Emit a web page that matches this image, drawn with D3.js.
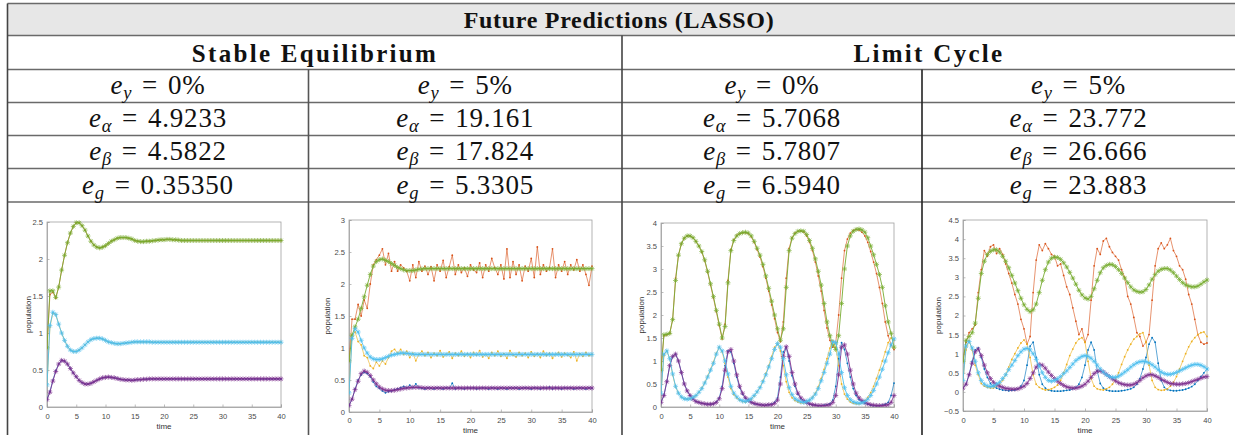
<!DOCTYPE html>
<html><head><meta charset="utf-8">
<script src="https://cdn.jsdelivr.net/npm/d3@7"></script>
<style>body{margin:0;background:#fff;} svg{display:block;}</style>
</head><body>
<svg id="c" width="1235" height="435"></svg>
<script>
// ---------------- DATA ----------------
const tableTitle = "Future Predictions (LASSO)";
const groupTitles = ["Stable Equilibrium", "Limit Cycle"];
const eyValues = ["0%", "5%", "0%", "5%"];
const eAlphaValues = ["4.9233", "19.161", "5.7068", "23.772"];
const eBetaValues = ["4.5822", "17.824", "5.7807", "26.666"];
const eGValues = ["0.35350", "5.3305", "6.5940", "23.883"];

const xTicks = [0,5,10,15,20,25,30,35,40];
const yTicksP1 = [0,0.5,1,1.5,2,2.5];
const yTicksP2 = [0,0.5,1,1.5,2,2.5,3];
const yTicksP3 = [0,0.5,1,1.5,2,2.5,3,3.5,4];
const yTicksP4 = [-0.5,0,0.5,1,1.5,2,2.5,3,3.5,4,4.5];

const time = [0,0.5,1,1.5,2,2.5,3,3.5,4,4.5,5,5.5,6,6.5,7,7.5,8,8.5,9,9.5,
10,10.5,11,11.5,12,12.5,13,13.5,14,14.5,15,15.5,16,16.5,17,17.5,18,18.5,19,19.5,
20,20.5,21,21.5,22,22.5,23,23.5,24,24.5,25,25.5,26,26.5,27,27.5,28,28.5,29,29.5,
30,30.5,31,31.5,32,32.5,33,33.5,34,34.5,35,35.5,36,36.5,37,37.5,38,38.5,39,39.5,40];

// Panel 1: stable equilibrium, e_y = 0%
const p1Blue = [0.10,0.21,0.36,0.49,0.58,0.63,0.62,0.58,0.52,0.46,
0.41,0.36,0.33,0.31,0.31,0.32,0.34,0.36,0.38,0.395,
0.40,0.405,0.40,0.395,0.385,0.375,0.37,0.365,0.365,0.36,
0.365,0.37,0.37,0.375,0.375,0.38,0.38,0.38,0.38,0.38,
0.38,0.38,0.38,0.38,0.38,0.38,0.38,0.38,0.38,0.38,
0.38,0.38,0.38,0.38,0.38,0.38,0.38,0.38,0.38,0.38,
0.38,0.38,0.38,0.38,0.38,0.38,0.38,0.38,0.38,0.38,
0.38,0.38,0.38,0.38,0.38,0.38,0.38,0.38,0.38,0.38,0.38];
const p1Orange = [0.80,1.52,1.55,1.47,1.62,1.85,2.05,2.22,2.35,2.44,
2.49,2.49,2.45,2.39,2.31,2.24,2.19,2.16,2.15,2.16,
2.18,2.21,2.24,2.26,2.28,2.29,2.29,2.29,2.28,2.27,
2.25,2.24,2.235,2.235,2.24,2.24,2.245,2.25,2.255,2.26,
2.26,2.265,2.265,2.26,2.26,2.255,2.25,2.25,2.25,2.25,
2.25,2.25,2.25,2.25,2.25,2.25,2.25,2.25,2.25,2.25,
2.25,2.25,2.25,2.25,2.25,2.25,2.25,2.25,2.25,2.25,
2.25,2.25,2.25,2.25,2.25,2.25,2.25,2.25,2.25,2.25,2.25];
const p1Yellow = [0.30,1.08,1.27,1.25,1.12,1.00,0.90,0.82,0.77,0.75,
0.75,0.77,0.80,0.84,0.88,0.91,0.925,0.93,0.93,0.92,
0.90,0.88,0.87,0.86,0.855,0.855,0.86,0.865,0.87,0.875,
0.88,0.88,0.88,0.88,0.88,0.88,0.875,0.875,0.875,0.875,
0.875,0.875,0.875,0.875,0.875,0.875,0.875,0.875,0.875,0.875,
0.875,0.875,0.875,0.875,0.875,0.875,0.875,0.875,0.875,0.875,
0.875,0.875,0.875,0.875,0.875,0.875,0.875,0.875,0.875,0.875,
0.875,0.875,0.875,0.875,0.875,0.875,0.875,0.875,0.875,0.875,0.875];
const p1Purple = [0.10,0.20,0.35,0.48,0.58,0.63,0.62,0.58,0.52,0.46,
0.41,0.36,0.33,0.31,0.31,0.32,0.34,0.36,0.38,0.395,
0.40,0.405,0.40,0.395,0.385,0.375,0.37,0.365,0.365,0.36,
0.365,0.37,0.37,0.375,0.375,0.38,0.38,0.38,0.38,0.38,
0.38,0.38,0.38,0.38,0.38,0.38,0.38,0.38,0.38,0.38,
0.38,0.38,0.38,0.38,0.38,0.38,0.38,0.38,0.38,0.38,
0.38,0.38,0.38,0.38,0.38,0.38,0.38,0.38,0.38,0.38,
0.38,0.38,0.38,0.38,0.38,0.38,0.38,0.38,0.38,0.38,0.38];
const p1Green = [0.80,1.57,1.57,1.48,1.62,1.85,2.05,2.22,2.35,2.44,
2.49,2.49,2.45,2.39,2.31,2.24,2.19,2.16,2.15,2.16,
2.18,2.21,2.24,2.26,2.28,2.29,2.29,2.29,2.28,2.27,
2.25,2.24,2.235,2.235,2.24,2.24,2.245,2.25,2.255,2.26,
2.26,2.265,2.265,2.26,2.26,2.255,2.25,2.25,2.25,2.25,
2.25,2.25,2.25,2.25,2.25,2.25,2.25,2.25,2.25,2.25,
2.25,2.25,2.25,2.25,2.25,2.25,2.25,2.25,2.25,2.25,
2.25,2.25,2.25,2.25,2.25,2.25,2.25,2.25,2.25,2.25,2.25];
const p1Cyan = [0.30,1.10,1.28,1.25,1.12,1.00,0.90,0.82,0.77,0.75,
0.75,0.77,0.80,0.84,0.88,0.91,0.925,0.93,0.93,0.92,
0.90,0.88,0.87,0.86,0.855,0.855,0.86,0.865,0.87,0.875,
0.88,0.88,0.88,0.88,0.88,0.88,0.875,0.875,0.875,0.875,
0.875,0.875,0.875,0.875,0.875,0.875,0.875,0.875,0.875,0.875,
0.875,0.875,0.875,0.875,0.875,0.875,0.875,0.875,0.875,0.875,
0.875,0.875,0.875,0.875,0.875,0.875,0.875,0.875,0.875,0.875,
0.875,0.875,0.875,0.875,0.875,0.875,0.875,0.875,0.875,0.875,0.875];

// Panel 2: stable equilibrium, e_y = 5%
const p2Blue = [0.10,0.20,0.36,0.50,0.58,0.62,0.60,0.55,0.47,0.40,
0.37,0.33,0.30,0.32,0.33,0.35,0.36,0.38,0.40,0.38,
0.42,0.38,0.44,0.38,0.37,0.36,0.38,0.37,0.36,0.38,
0.37,0.36,0.38,0.37,0.45,0.36,0.38,0.37,0.36,0.38,
0.37,0.38,0.36,0.37,0.38,0.37,0.36,0.38,0.37,0.36,
0.38,0.37,0.36,0.38,0.37,0.38,0.36,0.37,0.38,0.37,
0.36,0.38,0.37,0.36,0.38,0.37,0.39,0.36,0.38,0.37,
0.36,0.38,0.37,0.38,0.36,0.37,0.38,0.37,0.36,0.38,0.37];
const p2Orange = [0.80,1.45,1.45,1.68,1.50,1.75,1.62,2.00,2.30,2.38,
2.45,2.55,2.30,2.48,2.20,2.35,2.20,2.30,2.25,2.20,
2.05,2.30,2.10,2.35,2.20,2.28,2.15,2.27,2.05,2.30,
2.20,2.37,2.10,2.27,2.45,2.15,2.30,2.18,2.25,2.12,
2.30,2.22,2.18,2.33,2.10,2.30,2.20,2.40,2.25,2.15,
2.30,2.08,2.55,2.10,2.35,2.15,2.30,2.05,2.28,2.20,
2.40,2.10,2.58,2.15,2.30,2.20,2.25,2.55,2.10,2.30,
2.20,2.35,2.15,2.30,2.22,2.38,2.20,2.30,2.15,1.98,2.28];
const p2Yellow = [0.30,1.20,1.25,1.10,1.05,0.88,0.85,0.72,0.68,0.78,
0.72,0.80,0.75,0.85,0.95,0.98,0.92,0.98,0.90,0.95,
0.85,0.92,0.80,0.90,0.95,0.88,0.93,0.85,0.92,0.88,
0.96,0.86,0.90,0.94,0.84,0.92,0.88,0.95,0.87,0.91,
0.85,0.93,0.89,0.96,0.86,0.90,0.84,0.93,0.88,0.95,
0.87,0.91,0.84,0.96,0.89,0.86,0.93,0.88,0.92,0.85,
0.94,0.87,0.91,0.85,0.95,0.88,0.92,0.84,0.90,0.93,
0.86,0.92,0.89,0.85,0.94,0.80,0.91,0.87,0.93,0.88,0.90];
const p2Purple = [0.10,0.20,0.35,0.48,0.60,0.64,0.62,0.57,0.50,0.44,
0.39,0.36,0.34,0.335,0.335,0.34,0.35,0.36,0.37,0.375,
0.38,0.385,0.385,0.385,0.38,0.375,0.375,0.375,0.375,0.375,
0.375,0.375,0.375,0.375,0.375,0.375,0.375,0.375,0.375,0.375,
0.375,0.375,0.375,0.375,0.375,0.375,0.375,0.375,0.375,0.375,
0.375,0.375,0.375,0.375,0.375,0.375,0.375,0.375,0.375,0.375,
0.375,0.375,0.375,0.375,0.375,0.375,0.375,0.375,0.375,0.375,
0.375,0.375,0.375,0.375,0.375,0.375,0.375,0.375,0.375,0.375,0.375];
const p2Green = [0.80,1.20,1.33,1.45,1.62,1.80,1.98,2.15,2.28,2.35,
2.38,2.39,2.37,2.35,2.32,2.29,2.26,2.24,2.22,2.21,
2.21,2.21,2.22,2.23,2.235,2.24,2.24,2.24,2.24,2.24,
2.24,2.24,2.24,2.24,2.24,2.24,2.24,2.24,2.24,2.24,
2.24,2.24,2.24,2.24,2.24,2.24,2.24,2.24,2.24,2.24,
2.24,2.24,2.24,2.24,2.24,2.24,2.24,2.24,2.24,2.24,
2.24,2.24,2.24,2.24,2.24,2.24,2.24,2.24,2.24,2.24,
2.24,2.24,2.24,2.24,2.24,2.24,2.24,2.24,2.24,2.24,2.24];
const p2Cyan = [0.30,1.15,1.30,1.25,1.12,1.00,0.92,0.86,0.83,0.82,
0.82,0.83,0.85,0.87,0.89,0.90,0.91,0.92,0.92,0.915,
0.91,0.905,0.90,0.90,0.90,0.90,0.90,0.90,0.90,0.90,
0.90,0.90,0.90,0.90,0.90,0.90,0.90,0.90,0.90,0.90,
0.90,0.90,0.90,0.90,0.90,0.90,0.90,0.90,0.90,0.90,
0.90,0.90,0.90,0.90,0.90,0.90,0.90,0.90,0.90,0.90,
0.90,0.90,0.90,0.90,0.90,0.90,0.90,0.90,0.90,0.90,
0.90,0.90,0.90,0.90,0.90,0.90,0.90,0.90,0.90,0.90,0.90];

// Panel 3: limit cycle, e_y = 0%
const p3Blue = [0.10,0.25,0.55,0.90,1.10,1.15,1.00,0.75,0.50,0.35,
0.25,0.17,0.12,0.10,0.08,0.07,0.06,0.06,0.07,0.11,
0.20,0.45,0.90,1.22,1.20,0.95,0.65,0.42,0.28,0.19,
0.14,0.10,0.07,0.06,0.05,0.04,0.04,0.05,0.06,0.10,
0.20,0.65,1.20,1.30,1.00,0.68,0.45,0.28,0.18,0.12,
0.09,0.06,0.05,0.04,0.03,0.03,0.04,0.05,0.07,0.15,
0.45,1.05,1.40,1.25,0.95,0.65,0.40,0.25,0.16,0.11,
0.08,0.06,0.04,0.03,0.03,0.03,0.04,0.06,0.10,0.25,0.52];
const p3Orange = [0.80,1.55,1.57,1.60,1.90,2.80,3.30,3.55,3.67,3.72,
3.72,3.68,3.60,3.50,3.37,3.18,2.93,2.65,2.37,2.07,
1.77,1.48,1.80,2.75,3.42,3.63,3.73,3.77,3.79,3.79,
3.77,3.70,3.58,3.42,3.26,3.05,2.80,2.52,2.22,1.92,
1.62,1.42,1.85,2.80,3.45,3.68,3.78,3.82,3.83,3.81,
3.72,3.58,3.40,3.15,2.85,2.52,2.10,1.72,1.45,1.30,
1.40,2.00,2.80,3.40,3.65,3.78,3.84,3.86,3.85,3.80,
3.72,3.58,3.38,3.15,2.90,2.60,2.25,1.85,1.55,1.35,1.25];
const p3Yellow = [0.30,1.12,1.22,1.05,0.70,0.44,0.30,0.22,0.18,0.17,
0.18,0.21,0.25,0.32,0.41,0.53,0.67,0.82,0.98,1.17,
1.30,1.20,0.95,0.65,0.40,0.27,0.20,0.15,0.12,0.11,
0.13,0.17,0.24,0.33,0.43,0.57,0.73,0.90,1.10,1.30,
1.38,1.22,0.90,0.55,0.32,0.20,0.14,0.11,0.09,0.09,
0.11,0.15,0.21,0.30,0.44,0.62,0.82,1.05,1.28,1.45,
1.30,0.90,0.50,0.28,0.17,0.11,0.08,0.07,0.07,0.09,
0.14,0.21,0.31,0.45,0.62,0.80,1.00,1.20,1.40,1.50,1.45];
const p3Purple = [0.10,0.25,0.55,0.90,1.10,1.15,1.00,0.75,0.50,0.35,
0.25,0.17,0.12,0.10,0.08,0.07,0.06,0.06,0.07,0.10,
0.18,0.40,0.80,1.20,1.25,1.00,0.70,0.45,0.30,0.20,
0.15,0.10,0.08,0.06,0.05,0.04,0.04,0.05,0.05,0.08,
0.15,0.50,1.10,1.31,1.10,0.75,0.50,0.30,0.20,0.14,
0.10,0.07,0.05,0.04,0.03,0.03,0.03,0.04,0.05,0.10,
0.25,0.70,1.30,1.35,1.15,0.80,0.50,0.30,0.20,0.14,
0.10,0.07,0.05,0.04,0.03,0.03,0.03,0.04,0.05,0.10,0.25];
const p3Green = [0.80,1.57,1.58,1.60,1.90,2.75,3.30,3.55,3.67,3.72,
3.72,3.68,3.60,3.50,3.38,3.20,2.95,2.68,2.40,2.10,
1.80,1.50,1.75,2.70,3.40,3.62,3.72,3.77,3.79,3.80,
3.78,3.72,3.60,3.45,3.30,3.10,2.85,2.58,2.30,2.00,
1.70,1.45,1.70,2.60,3.40,3.67,3.77,3.82,3.83,3.82,
3.75,3.62,3.45,3.22,2.95,2.65,2.25,1.85,1.55,1.35,
1.25,1.55,2.25,3.00,3.50,3.72,3.82,3.86,3.87,3.85,
3.80,3.68,3.50,3.31,3.10,2.88,2.60,2.20,1.85,1.60,1.30];
const p3Cyan = [0.30,1.15,1.22,1.05,0.72,0.45,0.30,0.22,0.18,0.17,
0.18,0.21,0.25,0.32,0.40,0.52,0.65,0.80,0.95,1.15,
1.30,1.22,1.00,0.72,0.45,0.30,0.22,0.16,0.13,0.12,
0.14,0.18,0.25,0.33,0.42,0.55,0.70,0.87,1.05,1.25,
1.38,1.30,1.05,0.70,0.42,0.27,0.18,0.14,0.11,0.10,
0.12,0.15,0.20,0.28,0.40,0.57,0.75,0.95,1.15,1.42,
1.40,1.15,0.75,0.42,0.25,0.16,0.11,0.09,0.08,0.09,
0.12,0.17,0.25,0.36,0.50,0.65,0.82,1.00,1.18,1.35,1.48];

// Panel 4: limit cycle, e_y = 5%
const p4Blue = [0.10,0.20,0.45,0.80,1.10,1.15,0.90,0.60,0.38,0.22,
0.15,0.10,0.07,0.05,0.04,0.03,0.04,0.05,0.08,0.15,
0.30,0.70,1.20,1.30,0.90,0.45,0.20,0.10,0.05,0.03,
0.02,0.02,0.02,0.03,0.04,0.05,0.08,0.12,0.20,0.38,
0.70,1.10,1.30,1.10,0.55,0.22,0.10,0.05,0.03,0.02,
0.02,0.02,0.03,0.04,0.06,0.08,0.12,0.20,0.35,0.60,
0.90,1.25,1.42,1.30,0.75,0.30,0.12,0.06,0.04,0.03,
0.03,0.04,0.05,0.07,0.10,0.14,0.20,0.30,0.40,0.50,0.60];
const p4Orange = [0.80,1.30,1.55,1.65,1.75,2.60,3.20,3.70,3.55,3.80,
3.85,3.62,3.75,3.60,3.35,3.10,2.85,2.55,2.30,1.90,
1.65,1.25,1.45,2.60,3.45,3.85,3.70,3.88,3.75,3.60,
3.55,3.30,3.35,3.05,2.75,2.55,2.20,1.85,1.50,1.65,
1.30,1.50,2.40,3.30,3.75,3.60,3.95,4.02,3.80,3.65,
3.55,3.45,3.20,3.00,2.50,2.30,1.95,1.55,1.45,1.20,
1.30,1.50,2.40,3.30,3.75,3.90,3.75,3.85,4.02,3.70,
3.55,3.30,3.20,2.95,2.55,2.30,1.90,1.50,1.30,1.25,1.28];
const p4Yellow = [0.30,1.10,1.35,1.10,0.70,0.45,0.22,0.15,0.12,0.10,
0.10,0.15,0.20,0.30,0.45,0.65,0.85,1.00,1.15,1.28,
1.36,1.25,0.90,0.45,0.20,0.12,0.08,0.05,0.06,0.08,
0.12,0.18,0.30,0.50,0.72,0.95,1.12,1.28,1.38,1.42,
1.30,0.80,0.35,0.15,0.08,0.06,0.05,0.08,0.12,0.20,
0.32,0.50,0.72,0.92,1.10,1.25,1.38,1.45,1.52,1.55,
1.30,0.70,0.30,0.12,0.06,0.04,0.05,0.08,0.15,0.25,
0.40,0.60,0.80,1.00,1.18,1.32,1.42,1.50,1.55,1.57,1.45];
const p4Purple = [0.10,0.20,0.45,0.75,1.05,1.12,0.95,0.70,0.50,0.35,
0.25,0.19,0.15,0.12,0.09,0.08,0.07,0.07,0.08,0.11,
0.15,0.22,0.35,0.50,0.65,0.72,0.70,0.62,0.52,0.43,
0.35,0.28,0.22,0.17,0.13,0.11,0.10,0.10,0.12,0.15,
0.20,0.28,0.38,0.48,0.54,0.55,0.52,0.46,0.40,0.34,
0.29,0.24,0.21,0.19,0.18,0.18,0.20,0.24,0.30,0.37,
0.42,0.45,0.45,0.42,0.38,0.33,0.29,0.25,0.22,0.21,
0.20,0.20,0.21,0.22,0.24,0.27,0.30,0.33,0.36,0.39,0.40];
const p4Green = [0.80,1.35,1.45,1.55,1.80,2.45,3.10,3.42,3.60,3.68,
3.72,3.72,3.66,3.55,3.42,3.25,3.05,2.85,2.65,2.45,
2.28,2.16,2.10,2.15,2.30,2.60,2.92,3.20,3.40,3.50,
3.53,3.52,3.47,3.38,3.27,3.13,2.98,2.82,2.66,2.54,
2.46,2.43,2.50,2.70,2.92,3.12,3.25,3.31,3.34,3.33,
3.28,3.20,3.10,2.98,2.86,2.75,2.67,2.63,2.61,2.62,
2.68,2.80,2.95,3.07,3.16,3.21,3.23,3.23,3.19,3.12,
3.03,2.94,2.86,2.80,2.77,2.75,2.75,2.77,2.82,2.88,2.93];
const p4Cyan = [0.30,1.20,1.32,1.15,0.80,0.50,0.30,0.20,0.15,0.14,
0.15,0.20,0.25,0.35,0.45,0.58,0.70,0.82,0.95,1.05,
1.12,1.14,1.10,1.00,0.85,0.68,0.50,0.38,0.30,0.28,
0.30,0.34,0.40,0.48,0.55,0.64,0.73,0.82,0.88,0.93,
0.95,0.93,0.88,0.80,0.70,0.60,0.52,0.45,0.40,0.38,
0.38,0.41,0.46,0.52,0.58,0.65,0.71,0.76,0.79,0.80,
0.79,0.76,0.71,0.65,0.58,0.52,0.48,0.46,0.46,0.48,
0.51,0.55,0.59,0.63,0.67,0.70,0.72,0.72,0.70,0.66,0.60];

// ---------------- DRAWING ----------------
const svg = d3.select("#c");
const C = {blue:"#0072BD", orange:"#D95319", yellow:"#EDB120", purple:"#7E2F8E", green:"#77AC30", cyan:"#4DBEEE"};

// table geometry
const tLeft = 7.5, tRight = 1236;
const rowY = [3.5, 35.5, 69.5, 102.5, 135.5, 168.5, 202];
const colX = [7.5, 308.5, 622, 922, 1236];
const lineCol = "#6a6a6a";

svg.append("rect").attr("x", tLeft).attr("y", rowY[0]).attr("width", tRight - tLeft).attr("height", rowY[1] - rowY[0]).attr("fill", "#e7e7e7");

const grid = svg.append("g").attr("stroke", lineCol).attr("stroke-width", 1.6);
rowY.forEach(y => grid.append("line").attr("x1", tLeft).attr("x2", tRight).attr("y1", y).attr("y2", y));
grid.append("line").attr("x1", tLeft).attr("x2", tLeft).attr("y1", rowY[0]).attr("y2", 435).attr("stroke", "#444");
grid.append("line").attr("x1", colX[2]).attr("x2", colX[2]).attr("y1", rowY[1]).attr("y2", 435).attr("stroke", "#444");
grid.append("line").attr("x1", colX[1]).attr("x2", colX[1]).attr("y1", rowY[2]).attr("y2", 435).attr("stroke", "#555");
grid.append("line").attr("x1", colX[3]).attr("x2", colX[3]).attr("y1", rowY[2]).attr("y2", 435).attr("stroke", "#222");

const serif = "'Liberation Serif','DejaVu Serif',serif";
svg.append("text").attr("x", 619).attr("y", 27.5).attr("text-anchor", "middle")
  .attr("font-family", serif).attr("font-weight", "bold").attr("font-size", 24).attr("fill", "#111")
  .attr("letter-spacing", 0.7).text(tableTitle);
[[ 315, groupTitles[0] ], [ 929, groupTitles[1] ]].forEach(([x, s]) => {
  svg.append("text").attr("x", x).attr("y", 61.5).attr("text-anchor", "middle")
    .attr("font-family", serif).attr("font-weight", "bold").attr("font-size", 25).attr("fill", "#111")
    .attr("letter-spacing", 2.3).text(s);
});

const colCenters = [(colX[0]+colX[1])/2, (colX[1]+colX[2])/2, (colX[2]+colX[3])/2, (colX[3]+1235)/2];
function mathCell(x, y, sub, val) {
  const t = svg.append("text").attr("x", x).attr("y", y).attr("text-anchor", "middle")
    .attr("font-family", serif).attr("font-size", 27).attr("fill", "#111").attr("letter-spacing", 0.8);
  t.append("tspan").attr("font-style", "italic").text("e");
  t.append("tspan").attr("font-style", "italic").attr("font-size", 18.5).attr("dy", 5).text(sub);
  t.append("tspan").attr("dy", -5).text("\u2004=\u2004" + val);
}
const rowBase = [94, 127, 160, 193.5];
colCenters.forEach((cx, i) => {
  mathCell(cx, rowBase[0], "y", eyValues[i]);
  mathCell(cx, rowBase[1], "\u03B1", eAlphaValues[i]);
  mathCell(cx, rowBase[2], "\u03B2", eBetaValues[i]);
  mathCell(cx, rowBase[3], "g", eGValues[i]);
});

// panels
const panels = [
  {x0:47, x1:281, yTop:222, yBot:407, dom:[0,2.5], yt:yTicksP1, ylab:28, tickY:418.5, tlab:428.5,
   s:{blue:p1Blue, orange:p1Orange, yellow:p1Yellow, purple:p1Purple, green:p1Green, cyan:p1Cyan}},
  {x0:349, x1:592, yTop:220, yBot:412, dom:[0,3], yt:yTicksP2, ylab:327, tickY:423, tlab:432.5,
   s:{blue:p2Blue, orange:p2Orange, yellow:p2Yellow, purple:p2Purple, green:p2Green, cyan:p2Cyan}},
  {x0:661, x1:894, yTop:223, yBot:407, dom:[0,4], yt:yTicksP3, ylab:641, tickY:418.5, tlab:428.5,
   s:{blue:p3Blue, orange:p3Orange, yellow:p3Yellow, purple:p3Purple, green:p3Green, cyan:p3Cyan}},
  {x0:963, x1:1207, yTop:220, yBot:411, dom:[-0.5,4.5], yt:yTicksP4, ylab:938, tickY:423, tlab:432.5,
   s:{blue:p4Blue, orange:p4Orange, yellow:p4Yellow, purple:p4Purple, green:p4Green, cyan:p4Cyan}}
];

const sans = "'Liberation Sans',Arial,sans-serif";
function starPath(px, py, r) {
  const k = r * 0.72;
  return `M${px-r},${py}L${px+r},${py}M${px},${py-r}L${px},${py+r}M${px-k},${py-k}L${px+k},${py+k}M${px-k},${py+k}L${px+k},${py-k}`;
}

panels.forEach((p, pi) => {
  const x = d3.scaleLinear().domain([0, 40]).range([p.x0, p.x1]);
  const y = d3.scaleLinear().domain(p.dom).range([p.yBot, p.yTop]);
  const g = svg.append("g");
  const clipId = "clip" + pi;
  g.append("clipPath").attr("id", clipId).append("rect")
    .attr("x", p.x0).attr("y", p.yTop - 3).attr("width", p.x1 - p.x0 + 3).attr("height", p.yBot - p.yTop + 3);

  g.append("rect").attr("x", p.x0).attr("y", p.yTop).attr("width", p.x1 - p.x0).attr("height", p.yBot - p.yTop)
    .attr("fill", "none").attr("stroke", "#a0a0a0").attr("stroke-width", 0.8);

  const xa = d3.axisBottom(x).tickValues(xTicks).tickSize(-2.5).tickPadding(5).tickFormat(d3.format("d"));
  const ya = d3.axisLeft(y).tickValues(p.yt).tickSize(-2.5).tickPadding(4).tickFormat(d => d3.format("")(d));
  const gx = g.append("g").attr("transform", `translate(0,${p.yBot})`).call(xa);
  const gy = g.append("g").attr("transform", `translate(${p.x0},0)`).call(ya);
  [gx, gy].forEach(a => {
    a.select(".domain").attr("stroke", "#a0a0a0").attr("stroke-width", 0.8);
    a.selectAll(".tick line").attr("stroke", "#a0a0a0").attr("stroke-width", 0.7);
    a.selectAll(".tick text").attr("font-family", sans).attr("font-size", 7.6).attr("fill", "#4a4a4a");
  });
  gx.selectAll(".tick text").attr("dy", null).attr("y", null)
    .attr("transform", `translate(0,${p.tickY - p.yBot})`);

  g.append("text").attr("x", (p.x0 + p.x1) / 2).attr("y", p.tlab).attr("text-anchor", "middle")
    .attr("font-family", sans).attr("font-size", 8).attr("fill", "#333").text("time");
  g.append("text").attr("transform", `translate(${p.ylab},${(p.yTop + p.yBot) / 2}) rotate(-90)`)
    .attr("text-anchor", "middle").attr("dominant-baseline", "central")
    .attr("font-family", sans).attr("font-size", 8).attr("fill", "#333").text("population");

  const plot = g.append("g").attr("clip-path", `url(#${clipId})`);
  const line = d3.line().x((d, i) => x(time[i])).y(d => y(d));

  ["blue", "orange", "yellow"].forEach(k => {
    const vals = p.s[k];
    plot.append("path").datum(vals).attr("d", line).attr("fill", "none")
      .attr("stroke", C[k]).attr("stroke-width", 0.7).attr("opacity", 0.9);
    plot.append("g").selectAll("circle").data(vals).join("circle")
      .attr("cx", (d, i) => x(time[i])).attr("cy", d => y(d)).attr("r", 0.9).attr("fill", C[k]);
  });
  ["purple", "green", "cyan"].forEach(k => {
    const vals = p.s[k];
    plot.append("path").datum(vals).attr("d", line).attr("fill", "none")
      .attr("stroke", C[k]).attr("stroke-width", 0.9);
    plot.append("path").attr("d", vals.map((d, i) => starPath(x(time[i]), y(d), 2.5)).join(""))
      .attr("fill", "none").attr("stroke", C[k]).attr("stroke-width", 0.8).attr("opacity", 0.85);
  });
});
</script>
</body></html>
